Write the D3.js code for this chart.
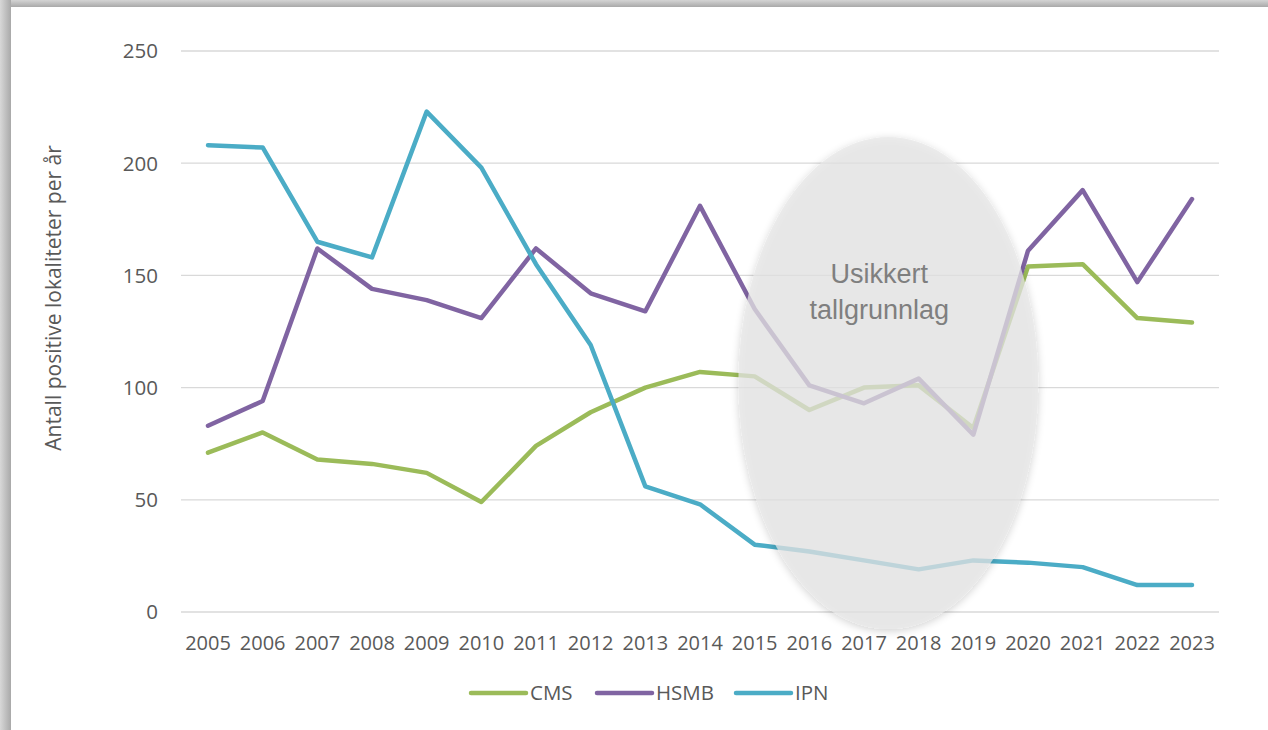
<!DOCTYPE html>
<html><head><meta charset="utf-8">
<script src="https://cdn.jsdelivr.net/npm/d3@7"></script>
<style>body{margin:0;background:#fff;}svg{display:block;font-family:"Open Sans",sans-serif;}</style>
</head><body><svg id="c" width="1268" height="730"></svg>
<script>
const years = [2005,2006,2007,2008,2009,2010,2011,2012,2013,2014,2015,2016,2017,2018,2019,2020,2021,2022,2023];
const cms  = [71,80,68,66,62,49,74,89,100,107,105,90,100,101,82,154,155,131,129];
const hsmb = [83,94,162,144,139,131,162,142,134,181,135,101,93,104,79,161,188,147,184];
const ipn  = [208,207,165,158,223,198,155,119,56,48,30,27,23,19,23,22,20,12,12];
const seriesNames = ["CMS","HSMB","IPN"];
const seriesColors = ["#9bbb59","#8064a2","#4bacc6"];
const yTicks = [0,50,100,150,200,250];
const yTitle = "Antall positive lokaliteter per år";
const noteLines = ["Usikkert","tallgrunnlag"];
const noteRange = [2016, 2019];

const svg = d3.select("#c");
const defs = svg.append("defs");
const lg = defs.append("linearGradient").attr("id","gt").attr("x1",0).attr("y1",0).attr("x2",0).attr("y2",1);
lg.append("stop").attr("offset",0).attr("stop-color","#d4d4d4");
lg.append("stop").attr("offset",1).attr("stop-color","#a9a9a9");
const lg2 = defs.append("linearGradient").attr("id","gl").attr("x1",0).attr("y1",0).attr("x2",1).attr("y2",0);
lg2.append("stop").attr("offset",0).attr("stop-color","#d8d8d8");
lg2.append("stop").attr("offset",1).attr("stop-color","#a9a9a9");
const blur = defs.append("filter").attr("id","sh").attr("x","-20%").attr("y","-20%").attr("width","140%").attr("height","140%");
blur.append("feGaussianBlur").attr("in","SourceAlpha").attr("stdDeviation",4).attr("result","b");
blur.append("feOffset").attr("in","b").attr("dx",0).attr("dy",2).attr("result","o");
blur.append("feComponentTransfer").attr("in","o").attr("result","o2").append("feFuncA").attr("type","linear").attr("slope",0.25);
const m = blur.append("feMerge"); m.append("feMergeNode").attr("in","o2"); m.append("feMergeNode").attr("in","SourceGraphic");

// frame
svg.append("rect").attr("x",0).attr("y",0).attr("width",1268).attr("height",7).attr("fill","url(#gt)");
svg.append("rect").attr("x",0).attr("y",0).attr("width",11).attr("height",730).attr("fill","url(#gl)");

const x = d3.scalePoint().domain(years).range([208,1192]);
const y = d3.scaleLinear().domain([0,250]).range([612,51]);

// gridlines
svg.append("g").selectAll("line").data(yTicks).join("line")
  .attr("x1",181).attr("x2",1219).attr("y1",d=>y(d)).attr("y2",d=>y(d))
  .attr("stroke","#d9d9d9").attr("stroke-width",1.3);

// y labels
svg.append("g").selectAll("text").data(yTicks).join("text")
  .attr("x",158).attr("y",d=>y(d)).attr("dy","0.36em").attr("text-anchor","end")
  .attr("font-size",20.5).attr("fill","#595959").text(d=>d);
// x labels
svg.append("g").selectAll("text").data(years).join("text")
  .attr("x",d=>x(d)).attr("y",650).attr("text-anchor","middle")
  .attr("font-size",20).attr("fill","#595959").text(d=>d);

// y title
svg.append("text").attr("transform","translate(61,298) rotate(-90)")
  .attr("text-anchor","middle").attr("font-size",21).attr("fill","#595959").text(yTitle);

// lines
const data = [cms,hsmb,ipn];
const line = d3.line().x((d,i)=>x(years[i])).y(d=>y(d));
svg.append("g").selectAll("path").data(data).join("path")
  .attr("d",line).attr("fill","none").attr("stroke",(d,i)=>seriesColors[i])
  .attr("stroke-width",4.5).attr("stroke-linejoin","round").attr("stroke-linecap","round");

// ellipse overlay
const cx = (x(noteRange[0])+x(noteRange[1]))/2 - 3;
svg.append("ellipse").attr("cx",cx).attr("cy",y(102)).attr("rx",150).attr("ry",246)
  .attr("fill","#e6e6e6").attr("fill-opacity",0.72).attr("filter","url(#sh)");
svg.append("text").attr("text-anchor","middle")
  .attr("font-family","'Liberation Sans',Arial,sans-serif")
  .attr("font-size",27).attr("fill","#7f7f7f").selectAll("tspan").data(noteLines).join("tspan")
  .attr("x",cx-9).attr("y",(d,i)=>283+i*36).text(d=>d);

// legend
const legX = [471,597,736];
const lgG = svg.append("g").selectAll("g").data(seriesNames).join("g")
  .attr("transform",(d,i)=>`translate(${legX[i]},693)`);
lgG.append("line").attr("x1",0).attr("x2",55).attr("y1",0).attr("y2",0)
  .attr("stroke",(d,i)=>seriesColors[i]).attr("stroke-width",4.5).attr("stroke-linecap","round");
lgG.append("text").attr("x",59).attr("y",0).attr("dy","0.36em").attr("font-size",20.5)
  .attr("fill","#595959").text(d=>d);
</script></body></html>
